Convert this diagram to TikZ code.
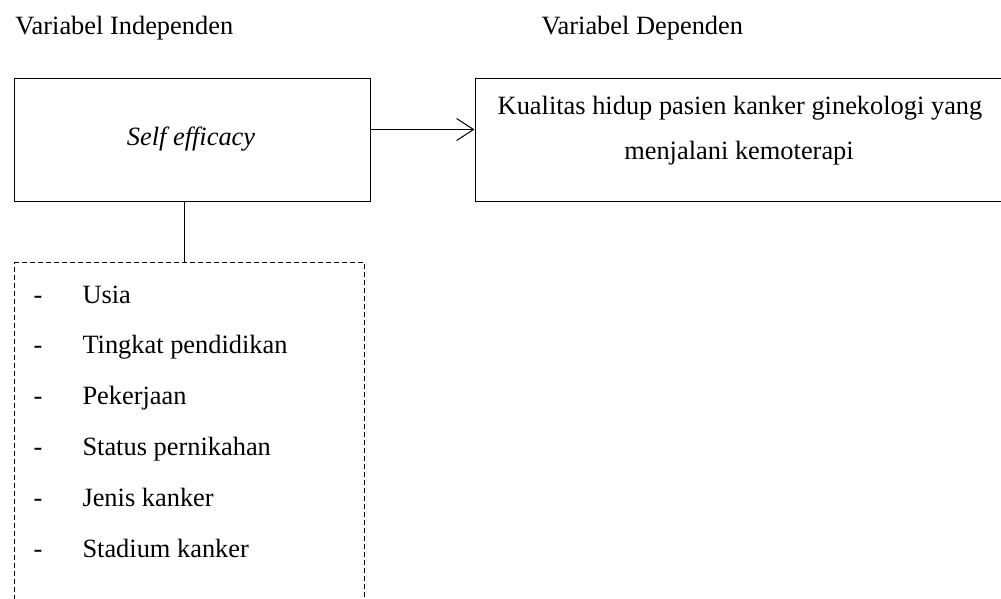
\documentclass[tikz,border=0pt]{standalone}
\usepackage{fontspec}
\setmainfont{Liberation Serif}
\usetikzlibrary{arrows.meta}

\begin{document}
\fontsize{26.4}{45}\selectfont
\begin{tikzpicture}[x=1pt,y=1pt,line width=1pt,
  kotak/.style={draw,inner sep=0pt,align=center},
  teks/.style={inner sep=0pt,anchor=base west}]
\useasboundingbox (0,0) rectangle (1001,-598);
% judul variabel
\node[teks] (vi) at (15,-34) {Variabel Independen};
\node[teks] (vd) at (541,-34) {Variabel Dependen};
% kotak utama
\node[kotak,minimum width=356pt,minimum height=123pt] (se) at (192,-139.5) {};
\node[inner sep=0pt,anchor=base] (set) at (191,-145) {\itshape Self efficacy};
\node[kotak,minimum width=540pt,minimum height=123pt] (kh) at (745,-139.5) {};
\node[inner sep=0pt,anchor=base] (kh1) at (740,-114) {Kualitas hidup pasien kanker ginekologi yang};
\node[inner sep=0pt,anchor=base] (kh2) at (739,-159) {menjalani kemoterapi};
\draw[-{Straight Barb[length=17pt,width=22pt]}] ([yshift=10pt]se.east) -- ([yshift=10pt]kh.west);
% faktor karakteristik
\node[draw,dashed,dash pattern=on 5pt off 3pt,inner sep=0pt,minimum width=350pt,minimum height=360pt,anchor=north west] (fk) at (14,-262) {};
\draw ([xshift=-5pt]fk.north) -- ([xshift=-5pt]fk.north |- se.south);
\foreach \isi [count=\i from 0] in {Usia,Tingkat pendidikan,Pekerjaan,Status pernikahan,Jenis kanker,Stadium kanker}{
  \node[teks] (s\i) at (33,-303-50.8*\i) {-};
  \node[teks] (f\i) at (82,-303-50.8*\i) {\isi};
}
\end{tikzpicture}
\end{document}
